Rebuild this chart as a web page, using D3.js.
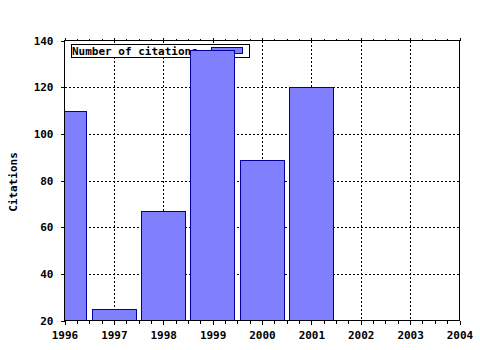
<!DOCTYPE html>
<html>
<head>
<meta charset="utf-8">
<script src="https://cdn.jsdelivr.net/npm/d3@7"></script>
<style>
  body { margin: 0; background: #fff; }
  text { font-family: "DejaVu Sans Mono", monospace; font-weight: bold; font-size: 11px; fill: #000; }
</style>
</head>
<body>
<div id="chart"></div>
<script>

// data
var years = [1996, 1997, 1998, 1999, 2000, 2001];
var citations = [110, 25, 67, 136, 89, 120];
var xTicks = [1996, 1997, 1998, 1999, 2000, 2001, 2002, 2003, 2004];
var yTicks = [20, 40, 60, 80, 100, 120, 140];
var legendLabel = "Number of citations";
var yTitle = "Citations";

var plotLeft = 64.5, plotRight = 459.5, plotTop = 40.5, plotBottom = 320.5;

var svg = d3.select("#chart")
  .append("svg")
    .attr("width", 480)
    .attr("height", 350);

var x = d3.scaleLinear()
    .domain([1996, 2004])
    .range([plotLeft, plotRight]);

var y = d3.scaleLinear()
    .domain([20, 140])
    .range([plotBottom, plotTop]);

// clip so the first bar stops at the axis
svg.append("clipPath")
    .attr("id", "plotclip")
  .append("rect")
    .attr("x", plotLeft)
    .attr("y", plotTop)
    .attr("width", plotRight - plotLeft)
    .attr("height", plotBottom - plotTop);

// dotted grid
var grid = svg.append("g")
    .attr("stroke", "#000")
    .attr("stroke-width", 1)
    .attr("stroke-dasharray", "2,2")
    .attr("shape-rendering", "crispEdges");

grid.selectAll(".vgrid")
    .data(xTicks.slice(1, -1))
    .enter()
    .append("line")
      .attr("x1", function(d) { return Math.round(x(d)) + 0.5; })
      .attr("x2", function(d) { return Math.round(x(d)) + 0.5; })
      .attr("y1", plotTop)
      .attr("y2", plotBottom);

grid.selectAll(".hgrid")
    .data(yTicks.slice(1, -1))
    .enter()
    .append("line")
      .attr("y1", function(d) { return Math.round(y(d)) + 0.5; })
      .attr("y2", function(d) { return Math.round(y(d)) + 0.5; })
      .attr("x1", plotLeft)
      .attr("x2", plotRight);

// legend (bars are painted over it)
var legend = svg.append("g");
legend.append("rect")
    .attr("x", 71.5)
    .attr("y", 44.5)
    .attr("width", 178)
    .attr("height", 13)
    .attr("fill", "#fff")
    .attr("stroke", "#000");
legend.append("text")
    .attr("x", 72)
    .attr("y", 55)
    .text(legendLabel);
legend.append("rect")
    .attr("x", 211.5)
    .attr("y", 47.5)
    .attr("width", 31)
    .attr("height", 6)
    .attr("fill", "#8080ff")
    .attr("stroke", "#0000a0");

// bars
svg.append("g")
    .attr("clip-path", "url(#plotclip)")
    .selectAll("rect")
    .data(years)
    .enter()
    .append("rect")
      .attr("x", function(d) { return Math.round(x(d - 0.45)) + 0.5; })
      .attr("width", function(d) { return Math.round(x(d + 0.45) - x(d - 0.45)); })
      .attr("y", function(d, i) { return Math.round(y(citations[i])) + 0.5; })
      .attr("height", function(d, i) { return Math.round(plotBottom - y(citations[i])); })
      .attr("fill", "#8080ff")
      .attr("stroke", "#0000a0");

// frame
svg.append("rect")
    .attr("x", plotLeft)
    .attr("y", plotTop)
    .attr("width", plotRight - plotLeft)
    .attr("height", plotBottom - plotTop)
    .attr("fill", "none")
    .attr("stroke", "#000");

// bottom axis, major + quarter ticks
var quarters = d3.range(1996, 2004.01, 0.25);

var gx = svg.append("g")
    .attr("transform", "translate(0," + plotBottom + ")")
    .call(d3.axisBottom(x)
      .tickValues(xTicks)
      .tickFormat(d3.format("d"))
      .tickSize(4)
      .tickPadding(7));
gx.select(".domain").remove();

svg.append("g")
    .attr("transform", "translate(0," + plotBottom + ")")
    .call(d3.axisBottom(x).tickValues(quarters).tickSize(3).tickFormat(""))
    .select(".domain").remove();

// top axis ticks point up
svg.append("g")
    .attr("transform", "translate(0," + plotTop + ")")
    .call(d3.axisTop(x).tickValues(xTicks).tickSize(3).tickFormat(""))
    .select(".domain").remove();

svg.append("g")
    .attr("transform", "translate(0," + plotTop + ")")
    .call(d3.axisTop(x).tickValues(quarters).tickSize(2).tickFormat(""))
    .select(".domain").remove();

// left axis
var gy = svg.append("g")
    .attr("transform", "translate(" + plotLeft + ",0)")
    .call(d3.axisLeft(y).tickValues(yTicks).tickSize(4).tickPadding(7));
gy.select(".domain").remove();

svg.selectAll(".tick text")
    .attr("font-size", null)
    .attr("font-family", null);
svg.selectAll(".tick line").attr("shape-rendering", "crispEdges");

// y title
svg.append("text")
    .attr("transform", "translate(17,182) rotate(-90)")
    .style("text-anchor", "middle")
    .text(yTitle);

</script>
</body>
</html>
